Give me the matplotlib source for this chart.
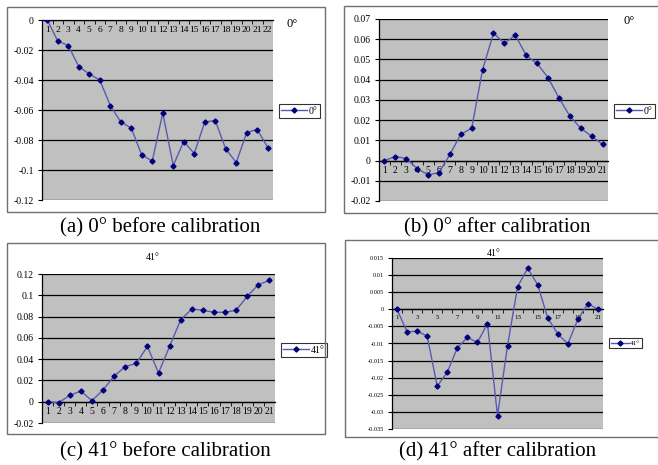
import matplotlib
matplotlib.use("Agg")
import matplotlib.pyplot as plt
from matplotlib.patches import Rectangle
from matplotlib.ticker import FixedLocator

# ---------------- data ----------------
cats_a = list(range(1, 23))
vals_a = [0, -0.014, -0.017, -0.031, -0.036, -0.040, -0.057, -0.068, -0.072, -0.090, -0.094,
          -0.062, -0.097, -0.081, -0.089, -0.068, -0.067, -0.086, -0.095, -0.075, -0.073, -0.085]
yticks_a = [0, -0.02, -0.04, -0.06, -0.08, -0.1, -0.12]

cats_b = list(range(1, 22))
vals_b = [0, 0.002, 0.001, -0.004, -0.007, -0.006, 0.003, 0.013, 0.016, 0.045, 0.063,
          0.058, 0.062, 0.052, 0.048, 0.041, 0.031, 0.022, 0.016, 0.012, 0.008]
yticks_b = [-0.02, -0.01, 0, 0.01, 0.02, 0.03, 0.04, 0.05, 0.06, 0.07]

cats_c = list(range(1, 22))
vals_c = [0, -0.001, 0.006, 0.010, 0.001, 0.011, 0.024, 0.033, 0.036, 0.052, 0.027,
          0.052, 0.077, 0.087, 0.086, 0.084, 0.084, 0.086, 0.099, 0.110, 0.114]
yticks_c = [-0.02, 0, 0.02, 0.04, 0.06, 0.08, 0.1, 0.12]

cats_d = list(range(1, 22))
vals_d = [0, -0.0066, -0.0064, -0.0078, -0.0225, -0.0184, -0.0113, -0.0082, -0.0097, -0.0042,
          -0.0311, -0.0106, 0.0066, 0.0120, 0.0072, -0.0026, -0.0072, -0.0101, -0.0029, 0.0016, 0.0]
yticks_d = [-0.035, -0.03, -0.025, -0.02, -0.015, -0.01, -0.005, 0, 0.005, 0.01, 0.015]

titles = ["0°", "0°", "41°", "41°"]
captions = ["(a) 0° before calibration", "(b) 0° after calibration",
            "(c) 41° before calibration", "(d) 41° after calibration"]

# ---------------- style ----------------
W, H = 658, 465
fig = plt.figure(figsize=(W / 100, H / 100), dpi=100)
fig.patch.set_facecolor("white")
SERIF = ["Liberation Serif", "DejaVu Serif"]
LINE_C = "#5a5ab0"
MARK_C = "#00007a"
PLOT_BG = "#c0c0c0"


def px(x0, y0, x1, y1):
    return [x0 / W, 1 - y1 / H, (x1 - x0) / W, (y1 - y0) / H]


def outer_box(x0, y0, x1, y1):
    fig.patches.append(Rectangle((x0 / W, 1 - y1 / H), (x1 - x0) / W, (y1 - y0) / H,
                                 transform=fig.transFigure, fill=False,
                                 edgecolor="#707070", lw=1.0, zorder=0))


def panel(rect, cats, vals, yticks, ylim, yfmt, tick_fs, xtick_fs, xlabel_step, label):
    ax = fig.add_axes(rect)
    ax.set_facecolor(PLOT_BG)
    ax.plot(cats, vals, color=LINE_C, lw=1.0, marker="D", ms=2.6,
            mfc=MARK_C, mec=MARK_C, label=label, zorder=3)
    ax.set_xlim(0.5, len(cats) + 0.5)
    ax.set_ylim(*ylim)
    ax.set_yticks(yticks)
    ax.set_yticklabels([yfmt(v) for v in yticks], family=SERIF, fontsize=tick_fs)
    ax.yaxis.grid(True, color="black", lw=0.9)
    ax.set_axisbelow(True)
    for s in ["top", "right"]:
        ax.spines[s].set_visible(False)
    ax.spines["left"].set_color("black")
    ax.spines["left"].set_linewidth(0.9)
    ax.spines["bottom"].set_position(("data", 0))
    ax.spines["bottom"].set_color("black")
    ax.spines["bottom"].set_linewidth(0.9)
    ax.set_xticks(cats)
    ax.set_xticklabels([str(c) if (c - 1) % xlabel_step == 0 else "" for c in cats],
                       family=SERIF, fontsize=xtick_fs)
    ax.tick_params(axis="x", which="major", length=0, pad=4)
    ax.xaxis.set_minor_locator(FixedLocator([c + 0.5 for c in cats[:-1]]))
    ax.tick_params(axis="x", which="minor", length=3, direction="out", color="black")
    ax.tick_params(axis="y", length=3, direction="out", pad=3)
    return ax


def leg(ax, x0, y0, fs):
    lg = ax.legend(loc="center left", bbox_to_anchor=(x0 / W, 1 - y0 / H),
                   bbox_transform=fig.transFigure, frameon=True, fancybox=False,
                   prop={"family": SERIF, "size": fs}, handlelength=2.6,
                   borderpad=0.25, handletextpad=0.2, borderaxespad=0)
    lg.get_frame().set_edgecolor("black")
    lg.get_frame().set_linewidth(0.8)


def fmt_2(v):
    if v == 0:
        return "0"
    return "%.2f" % v if round(v, 2) != round(v, 1) else "%g" % v


def fmt_3(v):
    if abs(v) < 1e-12:
        return "0"
    return "%.3f" % v if round(v, 3) != round(v, 2) else "%g" % v


fmt_a = lambda v: "0" if v == 0 else ("%g" % v)

# boxes
outer_box(7, 7, 325, 212)
outer_box(344, 6, 660, 213)
outer_box(7, 243, 325, 434)
outer_box(345, 240, 660, 437)

ax_a = panel(px(42, 20, 273, 200), cats_a, vals_a, yticks_a, (-0.12, 0), fmt_a, 7, 6.8, 1, titles[0])
ax_b = panel(px(379, 19, 608, 201), cats_b, vals_b, yticks_b, (-0.02, 0.07), fmt_2, 7, 7, 1, titles[1])
ax_c = panel(px(42, 274, 275, 423), cats_c, vals_c, yticks_c, (-0.02, 0.12), fmt_2, 7, 7, 1, titles[2])
ax_d = panel(px(392, 258, 603, 429), cats_d, vals_d, yticks_d, (-0.035, 0.015), fmt_3, 4.5, 5, 2, titles[3])

# titles (Excel-style chart titles)
fig.text(292 / W, 1 - 24 / H, titles[0], ha="center", va="center", family=SERIF, fontsize=9)
fig.text(629 / W, 1 - 21 / H, titles[1], ha="center", va="center", family=SERIF, fontsize=9)
fig.text(153 / W, 1 - 257 / H, titles[2], ha="center", va="center", family=SERIF, fontsize=7)
fig.text(494 / W, 1 - 253 / H, titles[3], ha="center", va="center", family=SERIF, fontsize=7)

# legends
leg(ax_a, 279, 111, 7)
leg(ax_b, 614, 111, 7)
leg(ax_c, 281, 350, 7)
leg(ax_d, 609, 343, 5)

# captions
fig.text(160 / W, 1 - 228 / H, captions[0], ha="center", va="center", family=SERIF, fontsize=15)
fig.text(497 / W, 1 - 228 / H, captions[1], ha="center", va="center", family=SERIF, fontsize=15)
fig.text(165 / W, 1 - 452 / H, captions[2], ha="center", va="center", family=SERIF, fontsize=15)
fig.text(498 / W, 1 - 452 / H, captions[3], ha="center", va="center", family=SERIF, fontsize=15)

fig.savefig("out.png", dpi=100, facecolor="white")
